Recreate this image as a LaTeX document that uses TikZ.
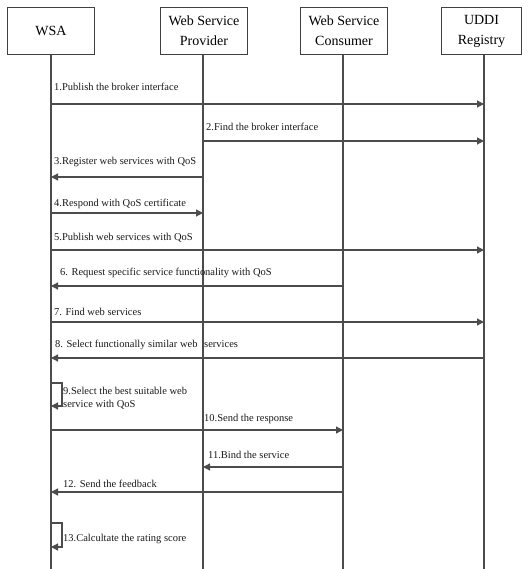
\documentclass[tikz,border=0pt]{standalone}
\usepackage{fontspec}
\setmainfont{Liberation Serif}
\usetikzlibrary{arrows.meta}
\tikzset{
  actor/.style={draw=black!75, line width=1pt, minimum width=87pt, minimum height=47pt, inner sep=0pt, align=center, font=\fontsize{14}{20}\selectfont, anchor=north west},
  life/.style={draw=black!70, line width=1.2pt},
  msg/.style={draw=black!70, line width=1.2pt, -{Triangle[length=7pt,width=7pt]}},
  lbl/.style={anchor=base west, inner sep=0pt, font=\fontsize{10.5}{12}\selectfont, text=black!90},
}
\begin{document}
\begin{tikzpicture}[x=1pt,y=-1pt]
\useasboundingbox (0,0) rectangle (527,569);
% actors
\node[actor] (wsa) at (7,7) {WSA};
\node[actor] (wsp) at (160,7) {Web Service\\Provider};
\node[actor] (wsc) at (300,7) {Web Service\\Consumer};
\node[actor, minimum width=80pt] (uddi) at (441,7) {UDDI\\Registry};
% lifeline ends
\coordinate (wsaE) at (51,569);
\coordinate (wspE) at (203,569);
\coordinate (wscE) at (343,569);
\coordinate (uddiE) at (484,569);
\draw[life] (wsa.south -| wsaE) -- (wsaE);
\draw[life] (wsp.south -| wspE) -- (wspE);
\draw[life] (wsc.south -| wscE) -- (wscE);
\draw[life] (uddi.south -| uddiE) -- (uddiE);
% message end points
\coordinate (a1) at (51,104);  \coordinate (b1) at (484,104);
\coordinate (a2) at (203,141); \coordinate (b2) at (484,141);
\coordinate (a3) at (203,177); \coordinate (b3) at (51,177);
\coordinate (a4) at (51,213);  \coordinate (b4) at (203,213);
\coordinate (a5) at (51,250);  \coordinate (b5) at (484,250);
\coordinate (a6) at (343,286); \coordinate (b6) at (51,286);
\coordinate (a7) at (51,322);  \coordinate (b7) at (484,322);
\coordinate (a8) at (484,358); \coordinate (b8) at (51,358);
\coordinate (a9) at (51,383);  \coordinate (c9) at (62,383); \coordinate (d9) at (62,406); \coordinate (b9) at (51,406);
\coordinate (a10) at (51,430); \coordinate (b10) at (343,430);
\coordinate (a11) at (343,467); \coordinate (b11) at (203,467);
\coordinate (a12) at (343,492); \coordinate (b12) at (51,492);
\coordinate (a13) at (51,523); \coordinate (c13) at (62,523); \coordinate (d13) at (62,547); \coordinate (b13) at (51,547);
% messages
\draw[msg] (a1) -- (b1);
\draw[msg] (a2) -- (b2);
\draw[msg] (a3) -- (b3);
\draw[msg] (a4) -- (b4);
\draw[msg] (a5) -- (b5);
\draw[msg] (a6) -- (b6);
\draw[msg] (a7) -- (b7);
\draw[msg] (a8) -- (b8);
\draw[msg] (a9) -- (c9) -- (d9) -- (b9);
\draw[msg] (a10) -- (b10);
\draw[msg] (a11) -- (b11);
\draw[msg] (a12) -- (b12);
\draw[msg] (a13) -- (c13) -- (d13) -- (b13);
% labels
\node[lbl] (l1) at (54,91) {1.Publish the broker interface};
\node[lbl] (l2) at (206,131) {2.Find the broker interface};
\node[lbl] (l3) at (54,165) {3.Register web services with QoS};
\node[lbl] (l4) at (54,206) {4.Respond with QoS certificate};
\node[lbl] (l5) at (54,240) {5.Publish web services with QoS};
\node[lbl] (l6a) at (60,275) {6. Request specific service functio};
\node[lbl] (l6b) at (205,275) {nality with QoS};
\node[lbl] (l7) at (54,315) {7. Find web services};
\node[lbl] (l8a) at (55,347) {8. Select functionally similar web};
\node[lbl] (l8b) at (204,347) {services};
\node[lbl] (l9a) at (63,394) {9.Select the best suitable web};
\node[lbl] (l9b) at (63,407) {service with QoS};
\node[lbl] (l10) at (204,421) {10.Send the response};
\node[lbl] (l11) at (208,458) {11.Bind the service};
\node[lbl] (l12) at (63,487) {12. Send the feedback};
\node[lbl] (l13) at (63,541) {13.Calcultate the rating score};
\end{tikzpicture}
\end{document}
